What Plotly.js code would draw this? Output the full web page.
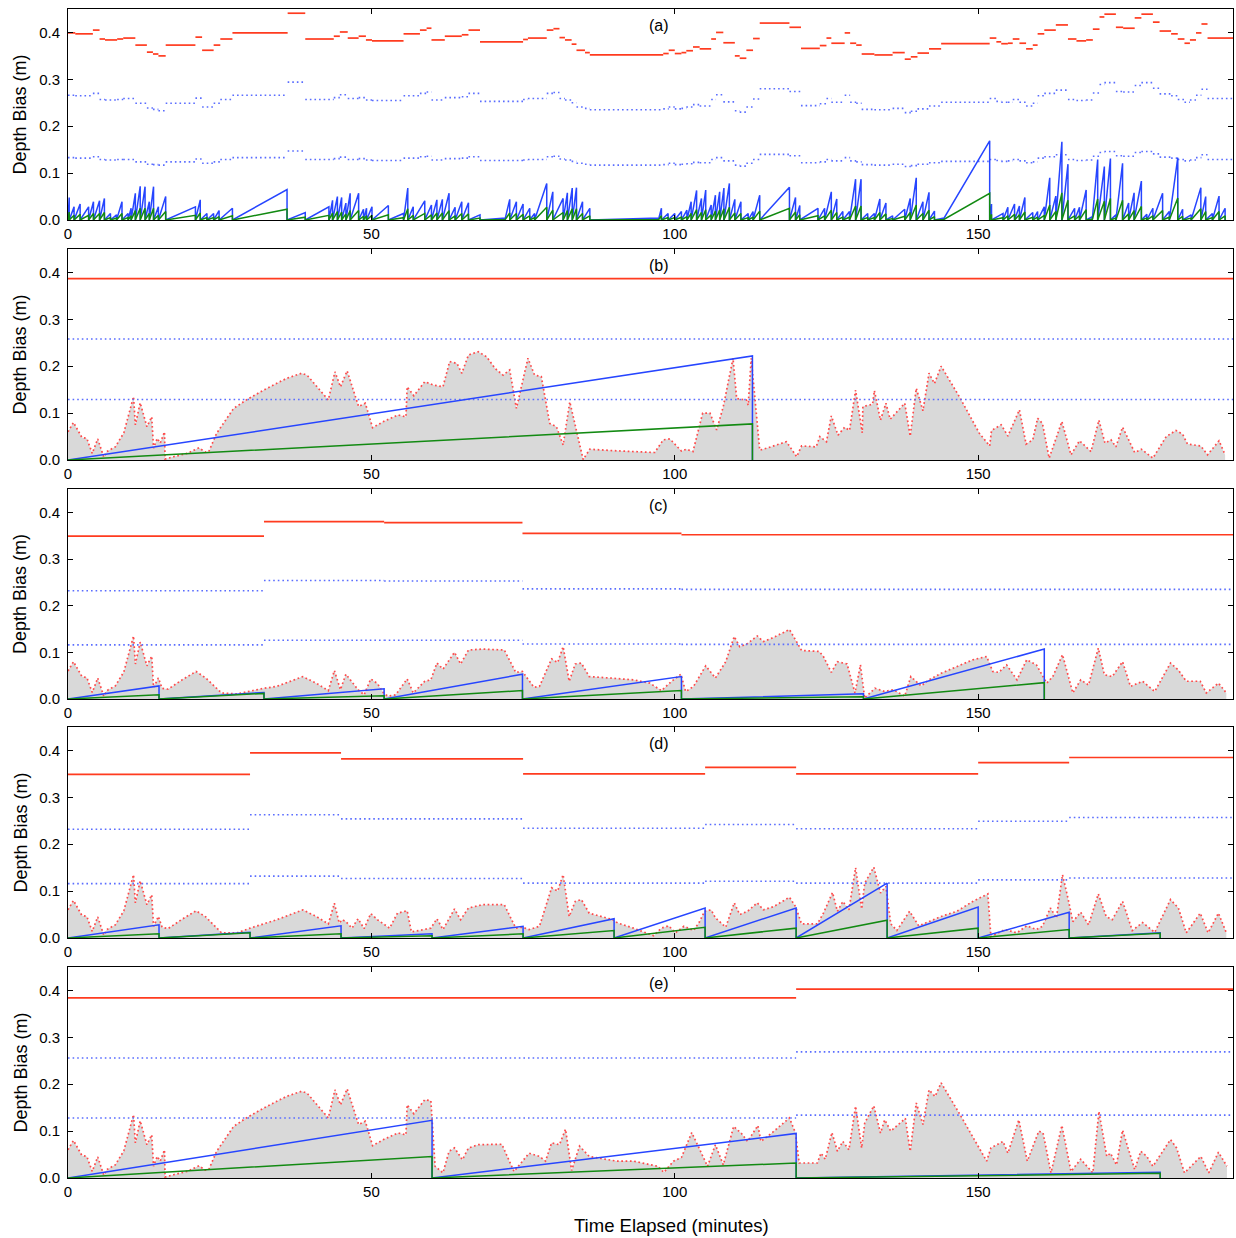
<!DOCTYPE html>
<html><head><meta charset="utf-8">
<script src="https://cdn.plot.ly/plotly-3.0.1.min.js"></script>
<style>body{margin:0;background:#fff}#chart{width:1236px;height:1238px}</style>
</head><body><div id="chart"></div>
<script>
// ---------- tick labels / titles ----------
const X_TICKS = [0, 50, 100, 150];
const X_TICK_TEXT = ['0', '50', '100', '150'];
const Y_TICKS = [0, 0.1, 0.2, 0.3, 0.4];
const Y_TICK_TEXT = ['0.0', '0.1', '0.2', '0.3', '0.4'];
const PANEL_LABELS = ['(a)', '(b)', '(c)', '(d)', '(e)'];
const Y_TITLE = 'Depth Bias (m)';
const X_TITLE = 'Time Elapsed (minutes)';

// ---------- panel (a) ----------
const aRedBreaks = [0,1.2,4.1,5.2,6.1,8.1,9.1,11.1,13.0,14.0,14.9,16.1,21.0,22.1,24.0,25.1,27.1,36.2,39.1,43.8,44.8,46.1,47.9,49.1,50.1,55.3,58.0,59.1,59.9,62.1,64.9,66.0,67.9,75.0,75.8,78.9,80.0,81.0,81.9,83.0,83.8,85.2,86.0,98.1,99.0,100.0,101.1,101.9,103.0,104.1,106.0,106.8,108.0,109.9,110.7,111.8,112.9,114.0,118.9,120.8,123.9,125.0,125.8,128.0,128.9,129.9,130.8,132.9,135.9,137.9,138.9,140.0,141.9,143.9,151.9,153.0,153.8,154.9,155.7,156.8,157.9,159.0,159.8,160.9,162.8,164.8,166.2,167.8,168.9,170.0,170.8,172.7,173.9,175.8,176.9,178.8,179.9,181.8,182.9,184.0,184.9,185.9,186.8,187.8,192];
const aRed = [0.399,0.397,0.405,0.386,0.384,0.386,0.388,0.373,0.358,0.354,
  0.350,0.373,0.390,0.362,0.373,0.386,0.399,0.441,0.386,0.392,
  0.401,0.388,0.392,0.384,0.382,0.397,0.405,0.409,0.384,0.392,
  0.395,0.405,0.380,0.385,0.388,0.405,0.408,0.389,0.384,0.375,
  0.362,0.357,0.352,0.355,0.362,0.355,0.357,0.361,0.369,0.365,
  0.386,0.400,0.378,0.350,0.345,0.362,0.387,0.420,0.411,0.366,
  0.372,0.388,0.377,0.399,0.377,0.373,0.354,0.352,0.357,0.343,
  0.348,0.356,0.365,0.376,0.388,0.380,0.376,0.377,0.386,0.377,
  0.365,0.373,0.397,0.405,0.416,0.386,0.382,0.384,0.407,0.433,
  0.439,0.411,0.409,0.431,0.439,0.422,0.403,0.397,0.386,0.377,
  0.384,0.399,0.418,0.388];
const aDotUpper = [0.266,0.265,0.270,0.257,0.256,0.257,0.259,0.249,0.239,0.236,
  0.233,0.249,0.260,0.241,0.249,0.257,0.266,0.294,0.257,0.261,
  0.267,0.259,0.261,0.256,0.255,0.265,0.270,0.273,0.256,0.261,
  0.263,0.270,0.253,0.257,0.259,0.270,0.272,0.259,0.256,0.250,
  0.241,0.238,0.235,0.237,0.241,0.237,0.238,0.241,0.246,0.243,
  0.257,0.267,0.252,0.233,0.230,0.241,0.258,0.280,0.274,0.244,
  0.248,0.259,0.251,0.266,0.251,0.249,0.236,0.235,0.238,0.229,
  0.232,0.237,0.243,0.251,0.259,0.253,0.251,0.251,0.257,0.251,
  0.243,0.249,0.265,0.270,0.277,0.257,0.255,0.256,0.271,0.289,
  0.293,0.274,0.273,0.287,0.293,0.281,0.269,0.265,0.257,0.251,
  0.256,0.266,0.279,0.259];
const aDotLower = [0.133,0.132,0.135,0.129,0.128,0.129,0.129,0.124,0.119,0.118,
  0.117,0.124,0.130,0.121,0.124,0.129,0.133,0.147,0.129,0.131,
  0.134,0.129,0.131,0.128,0.127,0.132,0.135,0.136,0.128,0.131,
  0.132,0.135,0.127,0.128,0.129,0.135,0.136,0.130,0.128,0.125,
  0.121,0.119,0.117,0.118,0.121,0.118,0.119,0.120,0.123,0.122,
  0.129,0.133,0.126,0.117,0.115,0.121,0.129,0.140,0.137,0.122,
  0.124,0.129,0.126,0.133,0.126,0.124,0.118,0.117,0.119,0.114,
  0.116,0.119,0.122,0.125,0.129,0.127,0.125,0.126,0.129,0.126,
  0.122,0.124,0.132,0.135,0.139,0.129,0.127,0.128,0.136,0.144,
  0.146,0.137,0.136,0.144,0.146,0.141,0.134,0.132,0.129,0.126,
  0.128,0.133,0.139,0.129];
const aResetTimes = [0.2,1.0,2.0,3.4,4.2,5.2,6.0,7.0,8.0,8.9,9.9,10.4,11.1,11.9,12.7,13.4,14.1,14.9,16.1,21.0,
  21.8,22.9,24.0,24.9,27.1,36.1,39.1,43.0,43.6,44.4,45.1,45.8,46.5,47.9,48.7,49.2,50.1,52.8,55.3,56.0,
  56.9,58.8,59.9,60.8,61.7,62.8,63.8,64.9,66.0,67.9,72.0,72.8,73.9,75.0,76.1,76.9,78.9,79.9,81.6,82.3,
  83.1,83.8,84.8,86.0,97.3,97.8,98.9,100.0,101.1,102.0,102.7,103.6,104.4,105.1,106.0,106.7,107.4,108.1,109.0,109.9,
  110.9,112.1,112.9,114.0,118.9,119.9,120.6,123.6,124.7,125.8,126.7,127.7,128.8,129.8,130.7,131.8,132.9,133.8,134.8,135.9,
  137.9,138.8,139.8,140.9,141.9,142.8,144.2,151.9,152.2,154.1,154.9,156.0,156.8,157.7,159.0,159.8,160.9,161.8,162.8,163.8,
  164.8,165.9,166.7,167.8,168.8,169.7,170.8,171.8,172.7,173.8,174.8,175.7,176.9,177.8,178.8,180.4,181.5,182.9,183.7,185.1,
  186.7,187.5,188.6,189.7,190.7];
const aBluePeaks = [0.048,0.028,0.034,0.028,0.039,0.041,0.046,0.014,0.011,0.039,0.014,0.025,0.057,0.072,0.071,0.039,0.071,0.028,0.050,0.028,
  0.043,0.014,0.014,0.020,0.025,0.065,0.016,0.028,0.042,0.050,0.048,0.036,0.057,0.057,0.023,0.025,0.028,0.031,0.014,0.068,
  0.028,0.041,0.032,0.043,0.044,0.057,0.027,0.039,0.037,0.011,0.004,0.044,0.039,0.034,0.025,0.014,0.078,0.060,0.046,0.058,
  0.068,0.069,0.039,0.025,0.004,0.025,0.014,0.014,0.018,0.021,0.039,0.063,0.046,0.064,0.032,0.053,0.060,0.068,0.078,0.044,
  0.039,0.014,0.018,0.053,0.070,0.048,0.031,0.025,0.025,0.060,0.045,0.018,0.018,0.087,0.087,0.014,0.014,0.045,0.036,0.009,
  0.023,0.046,0.090,0.039,0.059,0.019,0.004,0.169,0.034,0.014,0.027,0.034,0.030,0.048,0.016,0.018,0.028,0.090,0.051,0.167,
  0.119,0.025,0.027,0.064,0.007,0.129,0.114,0.131,0.011,0.121,0.036,0.058,0.083,0.012,0.025,0.057,0.018,0.133,0.023,0.011,
  0.069,0.050,0.014,0.051,0.025];
const aGreenPeaks = [0.017,0.010,0.012,0.010,0.014,0.014,0.016,0.005,0.004,0.014,0.005,0.009,0.020,0.025,0.025,0.014,0.025,0.010,0.018,0.010,
  0.015,0.005,0.005,0.007,0.009,0.023,0.006,0.010,0.015,0.018,0.017,0.013,0.020,0.020,0.008,0.009,0.010,0.011,0.005,0.024,
  0.010,0.014,0.011,0.015,0.015,0.020,0.009,0.014,0.013,0.004,0.001,0.015,0.014,0.012,0.009,0.005,0.027,0.021,0.016,0.020,
  0.024,0.024,0.014,0.009,0.001,0.009,0.005,0.005,0.006,0.007,0.014,0.022,0.016,0.022,0.011,0.019,0.021,0.024,0.027,0.015,
  0.014,0.005,0.006,0.019,0.025,0.017,0.011,0.009,0.009,0.021,0.016,0.006,0.006,0.030,0.030,0.005,0.005,0.016,0.013,0.003,
  0.008,0.016,0.032,0.014,0.021,0.007,0.001,0.057,0.012,0.005,0.009,0.012,0.011,0.017,0.006,0.006,0.010,0.032,0.018,0.058,
  0.042,0.009,0.009,0.022,0.002,0.045,0.040,0.046,0.004,0.042,0.013,0.020,0.029,0.004,0.009,0.020,0.006,0.047,0.008,0.004,
  0.024,0.018,0.005,0.018,0.009];

// ---------- panel (b) ----------
const bRedBreaks = [0, 192];
const bRed = [0.387];
const bDotUpper = [0.258];
const bDotLower = [0.129];
const bResetTimes = [112.8];
const bBluePeaks = [0.222];
const bGreenPeaks = [0.077];
const bErrT = [0,0.9,2.3,3.1,4.0,4.9,5.9,6.4,7.8,9.2,10.8,11.1,11.9,13.0,13.8,14.1,14.7,15.2,15.9,16.0,17.4,19.6,21.6,22.6,23.2,24.5,27.3,29.5,32.8,36.0,38.5,39.4,42.9,44.0,44.9,46.0,47.9,49.0,50.2,52.0,54.4,55.7,55.9,57.0,58.8,60.2,61.8,62.9,64.1,64.9,66.0,67.6,69.0,70.4,71.7,72.8,73.9,75.8,76.9,78.0,79.4,80.5,81.6,82.7,84.9,86.0,89.8,93.1,96.7,98.1,99.2,101.1,101.9,103.0,104.6,105.8,106.9,108.0,109.6,110.2,111.8,112.1,112.6,114.0,115.1,118.4,120.1,120.9,123.3,123.9,125.0,125.8,126.9,128.0,128.8,129.8,130.9,131.0,132.6,132.9,133.9,134.8,135.5,137.9,138.8,139.8,140.9,141.9,142.8,143.9,146.9,150.2,151.9,152.2,153.8,154.9,156.8,157.9,159.0,159.8,160.6,161.7,163.8,165.3,166.7,168.6,169.9,170.9,171.9,172.7,173.8,175.8,176.9,178.8,181.0,182.6,183.7,184.5,186.7,187.8,189.7,190.7];
const bErrV = [0.060,0.080,0.048,0.046,0.014,0.045,0.006,0.018,0.028,0.058,0.135,0.075,0.122,0.071,0.092,0.025,0.046,0.036,0.060,0.002,0.007,0.014,0.026,0.017,0.018,0.057,0.110,0.129,0.153,0.174,0.185,0.181,0.128,0.188,0.156,0.190,0.114,0.121,0.069,0.082,0.096,0.092,0.156,0.137,0.167,0.160,0.156,0.210,0.206,0.185,0.224,0.231,0.220,0.195,0.181,0.192,0.110,0.217,0.181,0.178,0.078,0.071,0.032,0.124,0.001,0.023,0.020,0.018,0.016,0.043,0.045,0.019,0.023,0.018,0.100,0.100,0.064,0.114,0.217,0.131,0.128,0.117,0.217,0.021,0.025,0.039,0.007,0.030,0.028,0.050,0.039,0.094,0.053,0.070,0.063,0.149,0.058,0.114,0.119,0.148,0.085,0.121,0.087,0.121,0.051,0.153,0.105,0.185,0.163,0.200,0.135,0.057,0.030,0.063,0.075,0.051,0.107,0.034,0.043,0.089,0.078,0.004,0.082,0.011,0.041,0.018,0.085,0.036,0.043,0.028,0.070,0.016,0.023,0.004,0.050,0.063,0.055,0.034,0.030,0.011,0.041,0.011];

// ---------- panel (c) ----------
const cRedBreaks = [0, 32.3, 52.1, 74.9, 101.1, 192];
const cRed = [0.349, 0.380, 0.378, 0.355, 0.352];
const cDotUpper = [0.232, 0.254, 0.253, 0.236, 0.235];
const cDotLower = [0.116, 0.126, 0.126, 0.118, 0.117];
const cResetTimes = [15.0, 32.3, 52.1, 74.9, 101.1, 131.1, 160.9];
const cBluePeaks = [0.028, 0.014, 0.022, 0.053, 0.048, 0.011, 0.107];
const cGreenPeaks = [0.009, 0.012, 0.007, 0.018, 0.018, 0.005, 0.035];
const cErrT = [0,0.9,2.3,3.1,4.0,4.9,5.9,6.4,7.8,9.2,10.8,11.1,11.9,13.0,13.8,14.1,14.9,15.5,16.5,18.8,21.1,22.7,25.3,27.9,32.3,34.4,38.7,40.9,42.9,43.9,44.9,45.8,47.8,48.8,49.9,51.0,52.0,52.7,54.0,55.9,56.9,58.8,59.8,60.8,61.8,63.7,64.7,66.0,68.3,71.9,73.8,74.9,75.5,76.8,77.7,79.7,80.7,81.6,82.6,83.6,84.6,85.9,89.3,93.2,95.9,97.8,99.5,101.0,101.8,103.1,105.1,106.7,108.4,109.8,110.7,112.0,113.6,114.6,116.3,118.9,120.9,123.8,124.5,125.8,126.8,128.4,129.7,130.6,131.3,133.0,134.6,136.0,137.9,138.9,140.6,141.9,143.9,146.5,149.1,151.4,152.4,153.4,154.7,156.4,158.0,159.6,160.6,161.3,162.3,163.9,165.6,166.9,168.2,169.8,170.8,172.1,173.8,175.1,177.1,179.1,181.7,183.0,184.3,186.6,187.6,189.6,190.9];
const cErrV = [0.060,0.080,0.048,0.046,0.014,0.045,0.006,0.018,0.028,0.058,0.135,0.075,0.122,0.071,0.092,0.025,0.045,0.023,0.021,0.041,0.059,0.045,0.013,0.011,0.023,0.027,0.048,0.034,0.018,0.061,0.020,0.053,0.020,0.009,0.043,0.033,0.013,0.006,0.009,0.043,0.013,0.038,0.041,0.077,0.064,0.100,0.075,0.105,0.107,0.105,0.057,0.059,0.048,0.025,0.027,0.086,0.078,0.112,0.038,0.075,0.077,0.048,0.045,0.041,0.034,0.018,0.038,0.053,0.016,0.027,0.071,0.045,0.080,0.134,0.112,0.119,0.135,0.123,0.132,0.149,0.104,0.102,0.091,0.057,0.080,0.075,0.013,0.073,0.002,0.023,0.016,0.020,0.006,0.048,0.028,0.041,0.055,0.070,0.084,0.091,0.059,0.057,0.073,0.041,0.084,0.073,0.050,0.034,0.048,0.095,0.013,0.041,0.030,0.109,0.052,0.048,0.080,0.027,0.038,0.016,0.077,0.062,0.038,0.038,0.013,0.034,0.013];

// ---------- panel (d) ----------
const dRedBreaks = [0, 30, 45, 75, 105, 120, 150, 165, 192];
const dRed = [0.349, 0.395, 0.382, 0.350, 0.364, 0.350, 0.374, 0.385];
const dDotUpper = [0.232, 0.263, 0.254, 0.234, 0.242, 0.233, 0.249, 0.257];
const dDotLower = [0.116, 0.132, 0.127, 0.117, 0.121, 0.117, 0.124, 0.128];
const dResetTimes = [15, 30, 45, 60, 75, 90, 105, 120, 135, 150, 165, 180];
const dBluePeaks = [0.028, 0.012, 0.026, 0.009, 0.025, 0.041, 0.064, 0.064, 0.117, 0.066, 0.055, 0.011];
const dGreenPeaks = [0.009, 0.011, 0.009, 0.005, 0.009, 0.016, 0.023, 0.021, 0.038, 0.021, 0.018, 0.010];
const dErrT = [0,0.9,2.3,3.1,4.0,4.9,5.9,6.4,7.8,9.2,10.8,11.1,11.9,13.0,13.8,14.1,14.9,15.5,16.5,18.8,21.1,22.7,25.3,27.9,30.0,34.4,38.7,40.9,42.9,43.9,44.7,45.2,45.8,46.8,47.8,48.8,49.9,51.0,53.0,54.3,55.9,56.6,59.8,60.8,61.8,63.7,64.7,66.0,68.3,71.9,73.8,74.9,76.0,77.7,79.7,80.7,81.6,82.6,83.6,84.6,85.9,89.8,90.6,93.2,96.5,97.8,99.0,100.1,101.5,103.1,104.1,104.9,106.0,106.7,108.4,109.8,110.7,112.0,113.6,114.6,116.3,118.9,119.9,120.9,123.5,124.5,126.0,126.8,127.7,128.7,129.8,130.8,131.3,132.8,133.9,134.8,135.6,136.6,138.7,140.2,141.9,143.9,146.5,149.1,151.6,152.1,154.4,156.4,158.0,159.6,160.6,161.9,162.9,163.9,164.8,165.6,166.9,168.2,169.8,171.1,172.1,173.8,175.4,177.1,179.1,181.7,183.0,184.3,186.6,187.9,189.6,190.9];
const dErrV = [0.060,0.080,0.048,0.046,0.014,0.045,0.006,0.018,0.028,0.058,0.135,0.075,0.122,0.071,0.092,0.025,0.046,0.023,0.020,0.040,0.058,0.045,0.011,0.011,0.021,0.039,0.060,0.046,0.030,0.074,0.032,0.039,0.035,0.021,0.041,0.020,0.052,0.039,0.021,0.053,0.058,0.013,0.021,0.041,0.018,0.062,0.039,0.064,0.071,0.071,0.021,0.023,0.018,0.025,0.107,0.100,0.135,0.046,0.078,0.082,0.053,0.039,0.032,0.021,0.005,0.021,0.026,0.011,0.025,0.016,0.035,0.057,0.060,0.043,0.023,0.075,0.050,0.057,0.075,0.060,0.067,0.087,0.067,0.030,0.030,0.053,0.097,0.057,0.078,0.060,0.150,0.062,0.117,0.151,0.096,0.110,0.030,0.016,0.057,0.026,0.035,0.046,0.057,0.078,0.094,0.003,0.018,0.011,0.026,0.018,0.025,0.064,0.043,0.135,0.085,0.035,0.055,0.028,0.094,0.046,0.039,0.078,0.016,0.033,0.012,0.082,0.064,0.011,0.053,0.011,0.053,0.011];

// ---------- panel (e) ----------
const eRedBreaks = [0, 120, 192];
const eRed = [0.384, 0.403];
const eDotUpper = [0.256, 0.269];
const eDotLower = [0.128, 0.134];
const eResetTimes = [60, 120, 180];
const eBluePeaks = [0.123, 0.095, 0.012];
const eGreenPeaks = [0.046, 0.032, 0.010];
const eErrT = [0,0.9,2.3,3.1,4.0,4.9,5.9,6.4,7.8,9.2,10.8,11.1,11.9,13.0,13.8,14.1,14.7,15.2,15.9,16.0,17.4,19.6,21.6,22.6,23.2,24.5,27.3,29.5,32.8,36.0,38.5,39.4,42.9,44.0,44.9,46.0,47.9,49.0,50.2,52.0,54.4,55.7,55.9,57.0,58.8,59.8,60.5,61.8,62.8,63.7,65.0,66.0,67.6,71.5,73.5,76.0,77.7,78.7,79.7,81.0,82.0,83.0,84.3,85.9,90.4,93.2,97.2,98.2,99.8,101.1,102.8,105.4,106.7,108.0,109.7,111.0,112.0,113.7,114.2,115.9,118.9,119.9,120.5,123.5,124.1,124.8,125.9,126.8,127.7,128.7,129.8,130.8,131.3,132.8,133.9,134.6,135.6,138.0,138.8,139.8,140.9,141.9,142.9,143.9,147.2,151.4,152.1,154.1,154.9,156.7,158.1,160.0,160.7,162.0,163.8,165.3,166.9,168.9,169.9,171.2,171.8,172.8,173.8,175.8,176.8,177.8,178.8,181.7,182.7,184.0,186.7,188.0,189.6,191.0];
const eErrV = [0.060,0.080,0.048,0.046,0.014,0.045,0.006,0.018,0.028,0.058,0.135,0.075,0.122,0.071,0.092,0.025,0.046,0.036,0.060,0.002,0.007,0.014,0.026,0.017,0.018,0.057,0.110,0.129,0.153,0.174,0.185,0.181,0.128,0.188,0.156,0.190,0.114,0.121,0.069,0.082,0.096,0.092,0.156,0.137,0.167,0.165,0.025,0.011,0.057,0.064,0.039,0.064,0.071,0.072,0.014,0.053,0.046,0.036,0.075,0.071,0.104,0.016,0.068,0.046,0.036,0.036,0.025,0.012,0.036,0.044,0.097,0.025,0.071,0.028,0.110,0.095,0.078,0.112,0.078,0.095,0.128,0.096,0.032,0.032,0.053,0.040,0.097,0.057,0.078,0.060,0.153,0.064,0.117,0.154,0.096,0.124,0.100,0.127,0.057,0.160,0.114,0.188,0.174,0.203,0.131,0.036,0.064,0.078,0.053,0.124,0.036,0.100,0.096,0.011,0.112,0.014,0.040,0.011,0.142,0.046,0.053,0.028,0.102,0.018,0.057,0.046,0.025,0.082,0.064,0.011,0.046,0.011,0.055,0.025];

// ---------- styling ----------
const FONT = 'Liberation Sans, Arial, sans-serif';
const RED = '#ff3b1f';
const BLUE = '#2645ff';
const GREEN = '#128a12';
const DOTBLUE = '#5a6dff';
const FILL = '#d9d9d9';
const ERRRED = '#ff4a4a';

function steps(breaks, vals) {
  const x = [], y = [];
  for (let i = 0; i < vals.length; i++) { x.push(breaks[i], breaks[i + 1], null); y.push(vals[i], vals[i], null); }
  return {x, y};
}
function saw(times, peaks) {
  const x = [0], y = [0];
  const n = Math.min(times.length, peaks.length);
  for (let i = 0; i < n; i++) { x.push(times[i], times[i]); y.push(peaks[i], 0); }
  return {x, y};
}

const panels = [
  {rb: aRedBreaks, r: aRed, du: aDotUpper, dl: aDotLower, st: aResetTimes, sb: aBluePeaks, sg: aGreenPeaks, et: null, ev: null},
  {rb: bRedBreaks, r: bRed, du: bDotUpper, dl: bDotLower, st: bResetTimes, sb: bBluePeaks, sg: bGreenPeaks, et: bErrT, ev: bErrV},
  {rb: cRedBreaks, r: cRed, du: cDotUpper, dl: cDotLower, st: cResetTimes, sb: cBluePeaks, sg: cGreenPeaks, et: cErrT, ev: cErrV},
  {rb: dRedBreaks, r: dRed, du: dDotUpper, dl: dDotLower, st: dResetTimes, sb: dBluePeaks, sg: dGreenPeaks, et: dErrT, ev: dErrV},
  {rb: eRedBreaks, r: eRed, du: eDotUpper, dl: eDotLower, st: eResetTimes, sb: eBluePeaks, sg: eGreenPeaks, et: eErrT, ev: eErrV}
];
// pixel extents of each panel (top, bottom) in a 1238 px tall figure
const PANEL_PX = [[9, 220], [249, 460], [489, 699], [727, 938], [967, 1178]];
const MT = 9, MB = 60, H = 1238, W = 1236, ML = 68, MR = 3;
const PH = H - MT - MB;

const traces = [];
const layout = {
  width: W, height: H, margin: {l: ML, r: MR, t: MT, b: MB},
  paper_bgcolor: '#fff', plot_bgcolor: '#fff', showlegend: false,
  font: {family: FONT, size: 15, color: '#000'},
  annotations: []
};

panels.forEach((p, i) => {
  const k = i === 0 ? '' : String(i + 1);
  const xa = 'x' + k, ya = 'y' + k;
  const y0 = (MT + PH - PANEL_PX[i][1]) / PH, y1 = (MT + PH - PANEL_PX[i][0]) / PH;
  layout['xaxis' + k] = {
    domain: [0, 1], anchor: ya, range: [0, 192], tickvals: X_TICKS, ticktext: X_TICK_TEXT,
    ticks: 'inside', ticklen: 5, tickwidth: 1, tickcolor: '#000', showline: true, linecolor: '#000', linewidth: 1,
    mirror: 'ticks', showgrid: false, zeroline: false, tickfont: {family: FONT, size: 15, color: '#000'}, fixedrange: true
  };
  layout['yaxis' + k] = {
    domain: [y0, y1], anchor: xa, range: [0, 0.45], tickvals: Y_TICKS, ticktext: Y_TICK_TEXT,
    ticks: 'inside', ticklen: 5, tickwidth: 1, tickcolor: '#000', showline: true, linecolor: '#000', linewidth: 1,
    mirror: 'ticks', showgrid: false, zeroline: false, ticklabelstandoff: 4,
    tickfont: {family: FONT, size: 15, color: '#000'}, fixedrange: true
  };
  if (p.et) {
    traces.push({x: p.et, y: p.ev, xaxis: xa, yaxis: ya, type: 'scatter', mode: 'lines', fill: 'tozeroy',
      fillcolor: FILL, line: {color: ERRRED, width: 1.7, dash: '1.7px,2.6px'}, hoverinfo: 'skip'});
  }
  const r = steps(p.rb, p.r), u = steps(p.rb, p.du), l = steps(p.rb, p.dl);
  traces.push({x: u.x, y: u.y, xaxis: xa, yaxis: ya, mode: 'lines', line: {color: DOTBLUE, width: 1.6, dash: '1.6px,3px'}, connectgaps: false});
  traces.push({x: l.x, y: l.y, xaxis: xa, yaxis: ya, mode: 'lines', line: {color: DOTBLUE, width: 1.6, dash: '1.6px,3px'}, connectgaps: false});
  traces.push({x: r.x, y: r.y, xaxis: xa, yaxis: ya, mode: 'lines', line: {color: RED, width: 1.7}, connectgaps: false});
  const sb = saw(p.st, p.sb), sg = saw(p.st, p.sg);
  traces.push({x: sb.x, y: sb.y, xaxis: xa, yaxis: ya, mode: 'lines', line: {color: BLUE, width: 1.5}});
  traces.push({x: sg.x, y: sg.y, xaxis: xa, yaxis: ya, mode: 'lines', line: {color: GREEN, width: 1.5}});

  layout.annotations.push({text: PANEL_LABELS[i], xref: xa + ' domain', yref: ya + ' domain', x: 0.507, y: 0.92,
    xanchor: 'center', yanchor: 'middle', showarrow: false, font: {family: FONT, size: 16, color: '#000'}});
  layout.annotations.push({text: Y_TITLE, xref: 'paper', yref: 'paper', x: (20 - ML) / (W - ML - MR), y: (y0 + y1) / 2,
    xanchor: 'center', yanchor: 'middle', textangle: -90, showarrow: false, font: {family: FONT, size: 18, color: '#000'}});
});
layout.annotations.push({text: X_TITLE, xref: 'paper', yref: 'paper', x: (671 - ML) / (W - ML - MR), y: (MT + PH - 1225) / PH,
  xanchor: 'center', yanchor: 'middle', showarrow: false, font: {family: FONT, size: 18.5, color: '#000'}});

Plotly.newPlot('chart', traces, layout, {staticPlot: true, displayModeBar: false});
</script></body></html>
